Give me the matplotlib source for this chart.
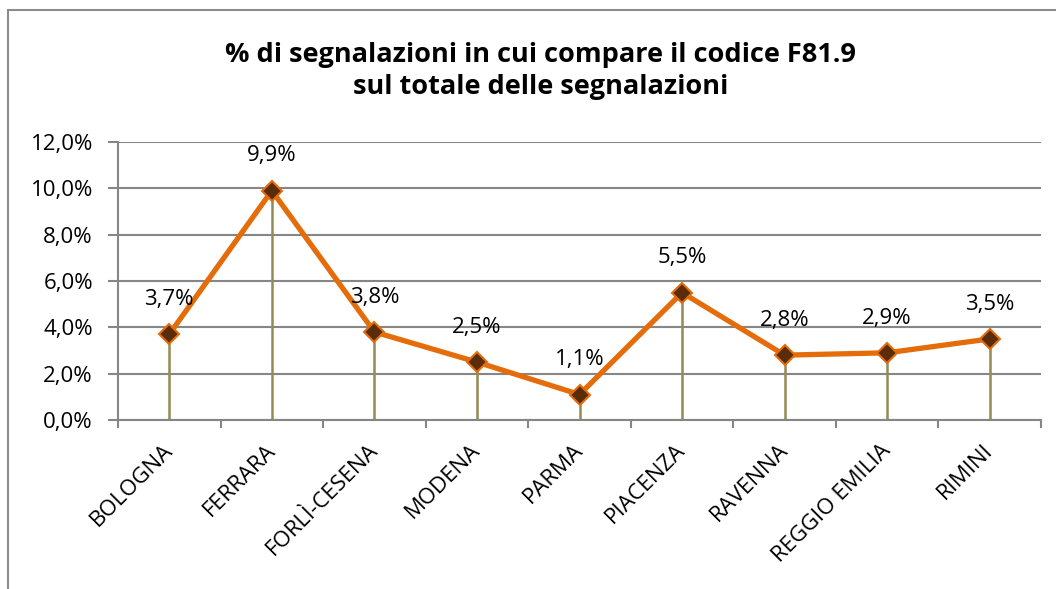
import matplotlib.pyplot as plt
from matplotlib.patches import Rectangle
from matplotlib.transforms import ScaledTranslation

# data
province = ["BOLOGNA", "FERRARA", "FORLÌ-CESENA", "MODENA", "PARMA",
            "PIACENZA", "RAVENNA", "REGGIO EMILIA", "RIMINI"]
perc = [3.7, 9.9, 3.8, 2.5, 1.1, 5.5, 2.8, 2.9, 3.5]
yticks = [0, 2, 4, 6, 8, 10, 12]

plt.rcParams['font.family'] = ['Open Sans', 'DejaVu Sans']

fig = plt.figure(figsize=(10.56, 5.89), dpi=100)
ax = fig.add_axes([118/1056, 1 - 420/589, (1041-118)/1056, (420-142)/589])

# outer chart border (only left/top visible in reference)
fig.patches.append(Rectangle((8/1056, -0.1), 1.2, 1 - 10/589 + 0.1,
                             transform=fig.transFigure, fill=False,
                             edgecolor='#8c8c8c', lw=1.5))

x = list(range(len(province)))
ax.vlines(x, 0, perc, color='#948a54', lw=1.8, zorder=2)
ax.plot(x, perc, color='#e46c0a', lw=3.8, marker='D', markersize=10,
        markerfacecolor='#5a2c0a', markeredgecolor='#e46c0a',
        markeredgewidth=1.5, zorder=3)

for xi, v in zip(x, perc):
    ax.annotate(("%.1f%%" % v).replace('.', ','), (xi, v), xytext=(0, 25),
                textcoords='offset points', ha='center', va='center',
                fontsize=16)

ax.set_xlim(-0.5, len(province) - 0.5)
ax.set_ylim(0, 12)
ax.set_yticks(yticks)
ax.set_yticklabels([("%.1f%%" % t).replace('.', ',') for t in yticks], fontsize=16)
ax.yaxis.grid(True, color='#868686', lw=1.5)
ax.set_axisbelow(True)

# ticks between categories, labels drawn as rotated text
ax.set_xticks([i - 0.5 for i in range(len(province) + 1)])
ax.set_xticklabels([])
lab_tr = ax.get_xaxis_transform() + ScaledTranslation(-7/100, -20/100, fig.dpi_scale_trans)
for xi, name in zip(x, province):
    ax.text(xi, 0, name, transform=lab_tr, rotation=45, rotation_mode='anchor',
            ha='right', va='top', fontsize=16)
ax.tick_params(axis='x', which='major', length=6, color='#868686', width=1.5)
ax.tick_params(axis='y', length=7, color='#868686', width=1.5, pad=11)

for s in ['top', 'right']:
    ax.spines[s].set_visible(False)
for s in ['left', 'bottom']:
    ax.spines[s].set_color('#868686')
    ax.spines[s].set_linewidth(1.5)

fig.text(0.512, 1 - 71/589,
         "% di segnalazioni in cui compare il codice F81.9\nsul totale delle segnalazioni",
         ha='center', va='center', fontsize=19.5, fontweight='bold', linespacing=1.35)

fig.savefig("out.png", dpi=100)
